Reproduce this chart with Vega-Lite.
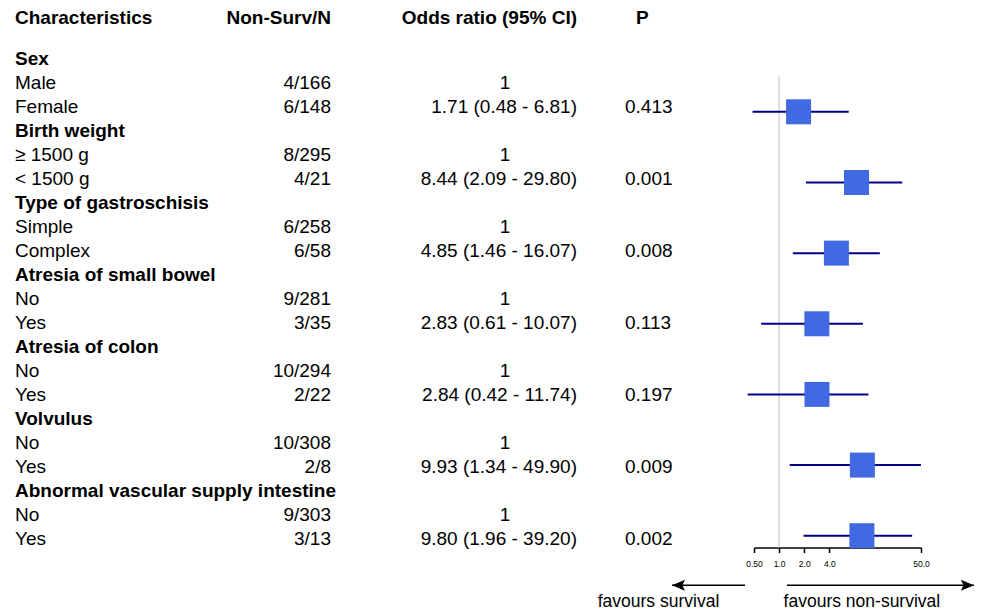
{
  "$schema": "https://vega.github.io/schema/vega-lite/v6.json",
  "padding": {"left": 15, "top": 8.5, "right": 5, "bottom": 0},
  "bounds": "flush",
  "spacing": 0,
  "config": {
    "view": {"stroke": null},
    "font": "Liberation Sans",
    "text": {"font": "Liberation Sans", "fontSize": 19, "baseline": "alphabetic", "color": "#000"}
  },
  "datasets": {
    "rows": [
      {"row": 0, "kind": "group", "label": "Sex"},
      {"row": 1, "kind": "level", "label": "Male", "n": "4/166", "ref": "1"},
      {"row": 2, "kind": "level", "label": "Female", "n": "6/148", "orText": "1.71 (0.48 - 6.81)", "p": "0.413", "or": 1.71, "lo": 0.48, "hi": 6.81},
      {"row": 3, "kind": "group", "label": "Birth weight"},
      {"row": 4, "kind": "level", "label": "≥ 1500 g", "n": "8/295", "ref": "1"},
      {"row": 5, "kind": "level", "label": "< 1500 g", "n": "4/21", "orText": "8.44 (2.09 - 29.80)", "p": "0.001", "or": 8.44, "lo": 2.09, "hi": 29.8},
      {"row": 6, "kind": "group", "label": "Type of gastroschisis"},
      {"row": 7, "kind": "level", "label": "Simple", "n": "6/258", "ref": "1"},
      {"row": 8, "kind": "level", "label": "Complex", "n": "6/58", "orText": "4.85 (1.46 - 16.07)", "p": "0.008", "or": 4.85, "lo": 1.46, "hi": 16.07},
      {"row": 9, "kind": "group", "label": "Atresia of small bowel"},
      {"row": 10, "kind": "level", "label": "No", "n": "9/281", "ref": "1"},
      {"row": 11, "kind": "level", "label": "Yes", "n": "3/35", "orText": "2.83 (0.61 - 10.07)", "p": "0.113", "or": 2.83, "lo": 0.61, "hi": 10.07},
      {"row": 12, "kind": "group", "label": "Atresia of colon"},
      {"row": 13, "kind": "level", "label": "No", "n": "10/294", "ref": "1"},
      {"row": 14, "kind": "level", "label": "Yes", "n": "2/22", "orText": "2.84 (0.42 - 11.74)", "p": "0.197", "or": 2.84, "lo": 0.42, "hi": 11.74},
      {"row": 15, "kind": "group", "label": "Volvulus"},
      {"row": 16, "kind": "level", "label": "No", "n": "10/308", "ref": "1"},
      {"row": 17, "kind": "level", "label": "Yes", "n": "2/8", "orText": "9.93 (1.34 - 49.90)", "p": "0.009", "or": 9.93, "lo": 1.34, "hi": 49.9},
      {"row": 18, "kind": "group", "label": "Abnormal vascular supply intestine"},
      {"row": 19, "kind": "level", "label": "No", "n": "9/303", "ref": "1"},
      {"row": 20, "kind": "level", "label": "Yes", "n": "3/13", "orText": "9.80 (1.96 - 39.20)", "p": "0.002", "or": 9.8, "lo": 1.96, "hi": 39.2}
    ],
    "notes": [
      {"dir": "left", "from": 0.39, "to": 0.0521, "label": "favours survival", "lx": 0.0359},
      {"dir": "right", "from": 1.24, "to": 215, "label": "favours non-survival", "lx": 9.8}
    ]
  },
  "hconcat": [
    {
      "width": 210, "height": 480,
      "data": {"name": "rows"},
      "layer": [
        {
          "transform": [{"filter": "datum.kind == 'group'"}],
          "mark": {"type": "text", "align": "left", "fontWeight": "bold"},
          "encoding": {
            "x": {"datum": 0, "type": "quantitative", "scale": {"domain": [0, 1], "nice": false, "zero": false}, "axis": null},
            "y": {"field": "row", "type": "quantitative", "scale": {"domain": [0.5, 20.5], "reverse": true, "nice": false, "zero": false}, "axis": null},
            "text": {"field": "label"}
          }
        },
        {
          "transform": [{"filter": "datum.kind == 'level'"}],
          "mark": {"type": "text", "align": "left"},
          "encoding": {
            "x": {"datum": 0, "type": "quantitative", "scale": {"domain": [0, 1], "nice": false, "zero": false}, "axis": null},
            "y": {"field": "row", "type": "quantitative", "scale": {"domain": [0.5, 20.5], "reverse": true, "nice": false, "zero": false}, "axis": null},
            "text": {"field": "label"}
          }
        },
        {
          "data": {"values": [{"h": "Characteristics"}]},
          "mark": {"type": "text", "align": "left", "fontWeight": "bold"},
          "encoding": {
            "x": {"datum": 0, "type": "quantitative"},
            "y": {"datum": -1.675, "type": "quantitative"},
            "text": {"field": "h"}
          }
        }
      ]
    },
    {
      "width": 106, "height": 480,
      "data": {"name": "rows"},
      "layer": [
        {
          "transform": [{"filter": "datum.n != null"}],
          "mark": {"type": "text", "align": "right"},
          "encoding": {
            "x": {"datum": 1, "type": "quantitative", "scale": {"domain": [0, 1], "nice": false, "zero": false}, "axis": null},
            "y": {"field": "row", "type": "quantitative", "scale": {"domain": [0.5, 20.5], "reverse": true, "nice": false, "zero": false}, "axis": null},
            "text": {"field": "n"}
          }
        },
        {
          "data": {"values": [{"h": "Non-Surv/N"}]},
          "mark": {"type": "text", "align": "right", "fontWeight": "bold"},
          "encoding": {
            "x": {"datum": 1, "type": "quantitative"},
            "y": {"datum": -1.675, "type": "quantitative"},
            "text": {"field": "h"}
          }
        }
      ]
    },
    {
      "width": 102, "height": 480,
      "data": {"values": []},
      "mark": "text"
    },
    {
      "width": 144, "height": 480,
      "data": {"name": "rows"},
      "layer": [
        {
          "transform": [{"filter": "datum.orText != null"}],
          "mark": {"type": "text", "align": "right"},
          "encoding": {
            "x": {"datum": 1, "type": "quantitative", "scale": {"domain": [0, 1], "nice": false, "zero": false}, "axis": null},
            "y": {"field": "row", "type": "quantitative", "scale": {"domain": [0.5, 20.5], "reverse": true, "nice": false, "zero": false}, "axis": null},
            "text": {"field": "orText"}
          }
        },
        {
          "transform": [{"filter": "datum.ref != null"}],
          "mark": {"type": "text", "align": "center"},
          "encoding": {
            "x": {"datum": 0.5, "type": "quantitative"},
            "y": {"field": "row", "type": "quantitative"},
            "text": {"field": "ref"}
          }
        },
        {
          "data": {"values": [{"h": "Odds ratio (95% CI)"}]},
          "mark": {"type": "text", "align": "right", "fontWeight": "bold"},
          "encoding": {
            "x": {"datum": 1, "type": "quantitative"},
            "y": {"datum": -1.675, "type": "quantitative"},
            "text": {"field": "h"}
          }
        }
      ]
    },
    {
      "width": 48, "height": 480,
      "data": {"values": []},
      "mark": "text"
    },
    {
      "width": 129, "height": 480,
      "data": {"name": "rows"},
      "layer": [
        {
          "transform": [{"filter": "datum.p != null"}],
          "mark": {"type": "text", "align": "left"},
          "encoding": {
            "x": {"datum": 0, "type": "quantitative", "scale": {"domain": [0, 1], "nice": false, "zero": false}, "axis": null},
            "y": {"field": "row", "type": "quantitative", "scale": {"domain": [0.5, 20.5], "reverse": true, "nice": false, "zero": false}, "axis": null},
            "text": {"field": "p"}
          }
        },
        {
          "data": {"values": [{"h": "P"}]},
          "mark": {"type": "text", "align": "left", "fontWeight": "bold", "dx": 11},
          "encoding": {
            "x": {"datum": 0, "type": "quantitative"},
            "y": {"datum": -1.675, "type": "quantitative"},
            "text": {"field": "h"}
          }
        }
      ]
    },
    {
      "width": 167, "height": 471,
      "layer": [
        {
          "data": {"values": [{}]},
          "mark": {"type": "rule", "color": "#d3d3d3", "strokeWidth": 1.5},
          "encoding": {
            "x": {
              "datum": 1, "type": "quantitative",
              "scale": {"type": "log", "domain": [0.5, 50], "nice": false},
              "axis": {
                "values": [0.5, 1, 2, 4, 50],
                "labelExpr": "datum.value < 1 ? '0.50' : format(datum.value, '.1f')",
                "title": null, "grid": false,
                "domainColor": "#000", "domainWidth": 1.5,
                "tickColor": "#000", "tickWidth": 1.5, "tickSize": 5,
                "labelFont": "Liberation Sans", "labelFontSize": 8.5, "labelColor": "#000",
                "labelPadding": 7, "labelFlush": false, "labelOverlap": false
              }
            }
          }
        },
        {
          "data": {"name": "rows"},
          "transform": [{"filter": "datum.or != null"}],
          "mark": {"type": "rule", "color": "#00008b", "strokeWidth": 2},
          "encoding": {
            "x": {"field": "lo", "type": "quantitative"},
            "x2": {"field": "hi"},
            "y": {"field": "row", "type": "quantitative", "scale": {"domain": [0.5, 20.5], "reverse": true, "nice": false, "zero": false}, "axis": null}
          }
        },
        {
          "data": {"name": "rows"},
          "transform": [{"filter": "datum.or != null"}],
          "mark": {"type": "point", "shape": "square", "filled": true, "size": 625, "color": "#4169e1", "opacity": 1, "strokeWidth": 0},
          "encoding": {
            "x": {"field": "or", "type": "quantitative"},
            "y": {"field": "row", "type": "quantitative"}
          }
        },
        {
          "data": {"name": "notes"},
          "mark": {"type": "rule", "color": "#000", "strokeWidth": 1.5},
          "encoding": {
            "x": {"field": "from", "type": "quantitative"},
            "x2": {"field": "to"},
            "y": {"datum": 22.1, "type": "quantitative"}
          }
        },
        {
          "data": {"name": "notes"},
          "transform": [{"filter": "datum.dir == 'left'"}],
          "mark": {"type": "point", "shape": "M0,0L2,-0.85L1.6,0L2,0.85Z", "filled": true, "size": 169, "color": "#000", "opacity": 1, "strokeWidth": 0},
          "encoding": {
            "x": {"field": "to", "type": "quantitative"},
            "y": {"datum": 22.1, "type": "quantitative"}
          }
        },
        {
          "data": {"name": "notes"},
          "transform": [{"filter": "datum.dir == 'right'"}],
          "mark": {"type": "point", "shape": "M0,0L-2,-0.85L-1.6,0L-2,0.85Z", "filled": true, "size": 169, "color": "#000", "opacity": 1, "strokeWidth": 0},
          "encoding": {
            "x": {"field": "to", "type": "quantitative"},
            "y": {"datum": 22.1, "type": "quantitative"}
          }
        },
        {
          "data": {"name": "notes"},
          "mark": {"type": "text", "align": "center", "baseline": "middle", "fontSize": 17.5},
          "encoding": {
            "x": {"field": "lx", "type": "quantitative"},
            "y": {"datum": 22.83, "type": "quantitative"},
            "text": {"field": "label"}
          }
        }
      ]
    }
  ]
}
